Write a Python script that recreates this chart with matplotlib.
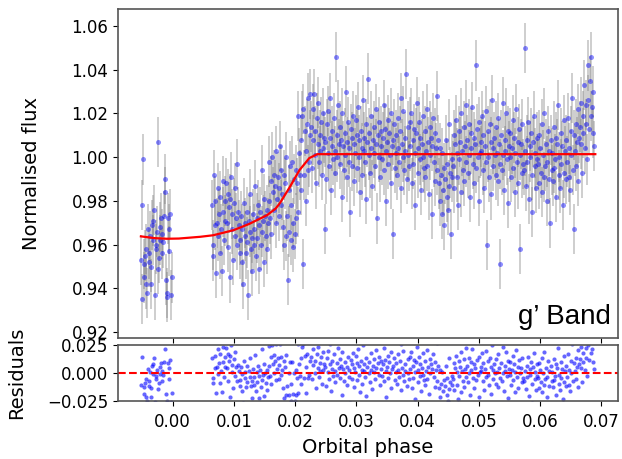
import numpy as np
import matplotlib
matplotlib.use("Agg")
import matplotlib.pyplot as plt

# light curve: two observing segments, regular cadence
seg1_range = (-0.0052, -0.0002)
seg2_range = (0.0064, 0.0688)

# flux deviations from 1 in parts per thousand
seg1_ppt = [-47, -22, -65, -1, -49, -55, -45, -58, -42, -62, -33, -48, -44, -36, -58,
            -50, -31, -38, -29, -24, -63, -40, -42, -34, 7, -51, -46, -38, -32, -28,
            -44, -35, -39, -27, -10, -16, -56, -62, -64, -28, -43, -33, -26, -63, -55]

seg2_ppt = [
    -22, -45, -40, -8, -31, -20, -53, -30, -14, -36, -26, -44, -18, -33, -52, -25, -11, -38, -29, -20,
    -12, -30, -41, -17, -23, -55, -19, -9, -33, -26, -47, -21, -14, -36, -28, -3, -40, -25, -31, -44,
    -38, -27, -48, -33, -58, -21, -36, -30, -44, -25, -39, -63, -29, -34, -17, -42, -37, -52, -26, -40,
    -33, -13, -45, -28, -37, -22, -51, -31, -25, -40, -6, -34, -29, -48, -19, -27, -36, -42, -24, -30,
    -20, -2, -28, -11, -35, 0, -16, -8, -24, -13, -30, 3, -19, -9, -27, -14, 5, -22, -6, -17,
    -32, -8, -40, -12, -36, 0, -27, -56, -15, -34, -4, -38, -22, -2, -30, -41, -10, -35, -6, -28,
    -12, 19, -25, 2, -8, 8, -15, 19, -49, 22, -8, 12, -20, 3, 15, -6, 27, -2, 10, 29,
    14, -5, 22, 8, 29, 1, 12, -12, 18, 6, 25, -2, 10, 3, 16, -8, 20, 4, 9, -33,
    7, -10, 15, 2, 21, -4, 9, 27, -15, 5, 12, -1, 18, 3, -7, 46, 10, 0, 24, 6,
    -3, 14, 8, -18, 20, 5, -6, 11, 1, 30, -9, 7, 16, -2, 4, -25, 13, 9, -4, 19,
    6, -11, 2, 17, 10, -5, 23, 0, 8, -16, 12, 4, -8, 26, 3, 9, -2, 15, -19, 7,
    36, 1, 11, -7, 4, 19, -13, 8, 2, 14, -4, 22, 6, -28, 10, 0, 16, -9, 5, 12,
    -1, 9, 24, -6, 13, 3, -20, 7, 17, -3, 11, 1, -12, 20, 5, -35, 8, 15, -5, 2,
    10, -8, 4, 18, -2, 12, 27, -14, 6, 0, 21, -6, 9, 3, 38, -10, 14, 1, -4, 16,
    5, 20, -12, 8, -3, 13, 2, -22, 11, 25, -7, 4, 16, -1, 9, -15, 6, 19, 0, -5,
    12, -9, 3, 22, -4, 7, -17, 14, 1, 9, -26, 5, 18, -2, 11, -11, 4, 28, -6, 8,
    -12, 4, -20, -8, -26, 2, -15, -5, -31, -10, 8, -18, -3, -24, -13, 15, -7, -35, -1, -9,
    -4, 10, -14, 6, 17, -9, 2, -22, 12, -1, 7, -16, 20, 3, -6, 14, -11, 5, 24, -2,
    8, -7, 15, 1, -18, 11, 4, 23, -3, 9, -12, 6, 42, -5, 13, 0, -20, 16, 2, 7,
    3, 19, -6, 10, -14, 5, 21, -2, -40, 12, 0, -9, 15, 7, -17, 26, 4, -4, 9, 1,
    -8, 14, 2, -11, 18, 6, -3, -49, 10, -6, 25, 1, -15, 8, 3, 20, -1, -21, 12, 5,
    0, 11, -9, 4, 17, -5, 9, -16, 2, 22, -2, 7, -12, 13, 1, -42, 6, -7, 15, -3,
    -6, 50, 3, -13, 8, -2, 16, -19, 5, 0, 11, -8, -25, 7, 19, -4, 2, -14, 9, -1,
    -3, 10, -12, 4, -7, 15, -16, 1, -9, 20, -4, 6, -20, -2, 12, -10, 3, -30, 8, -6,
    2, -11, 14, -5, -1, 9, -18, 6, 24, -8, 0, -14, 11, -3, 5, -22, 17, -7, 3, -10,
    8, -2, 18, -9, 4, -15, 12, 1, 27, -6, 10, -33, 3, 15, -4, 7, 22, -11, 9, 14,
    6, 25, -7, 19, 11, 33, 4, 24, 15, -1, 26, 42, 13, 35, 19, 46, 23, 11, 30, 5,
]
flux_err = 0.0115

# eclipse egress model curve (knots)
model_phase = [-0.0052, -0.0030, -0.0010, 0.0010, 0.0045, 0.0066, 0.0099, 0.0125,
               0.0154, 0.0168, 0.0175, 0.0191, 0.0207, 0.0223, 0.0236, 0.0690]
model_flux = [0.9638, 0.9630, 0.9627, 0.9628, 0.9636, 0.9643, 0.9666, 0.9695,
              0.9735, 0.9765, 0.9790, 0.9863, 0.9941, 0.9996, 1.0014, 1.0014]

phase = np.concatenate([np.linspace(*seg1_range, len(seg1_ppt)),
                        np.linspace(*seg2_range, len(seg2_ppt))])
flux = 1 + np.array(seg1_ppt + seg2_ppt) / 1000.0
resid = flux - np.interp(phase, model_phase, model_flux)

fig = plt.figure(figsize=(6.22, 4.59), dpi=100)
ax = fig.add_axes([0.190, 0.2636, 0.8036, 0.7168])
axr = fig.add_axes([0.190, 0.1264, 0.8036, 0.1220], sharex=ax)

ax.errorbar(phase, flux, yerr=flux_err, fmt='none', ecolor='grey',
            elinewidth=1.4, alpha=0.38, zorder=1)
ax.plot(phase, flux, 'o', color='blue', ms=3.6, alpha=0.45, mew=0, zorder=2)
ax.plot(model_phase, model_flux, color='red', lw=1.6, zorder=3)
ax.set_ylim(0.9173, 1.0678)
ax.set_yticks([0.92, 0.94, 0.96, 0.98, 1.00, 1.02, 1.04, 1.06])
ax.set_ylabel("Normalised flux", fontsize=14, labelpad=22)
ax.text(0.985, 0.025, "g\u2019 Band", transform=ax.transAxes, ha='right', va='bottom',
        fontsize=20, family='Liberation Sans')
plt.setp(ax.get_xticklabels(), visible=False)

axr.plot(phase, resid, 'o', color='blue', ms=3.0, alpha=0.6, mew=0)
axr.axhline(0, color='red', ls='--', lw=1.5)
axr.set_ylim(-0.025, 0.025)
axr.set_yticks([-0.025, 0.0, 0.025])
axr.set_ylabel("Residuals", fontsize=14, labelpad=15)
axr.set_xlabel("Orbital phase", fontsize=14)
axr.xaxis.set_label_coords(0.5, -0.66)
axr.set_xticks([0.0, 0.01, 0.02, 0.03, 0.04, 0.05, 0.06, 0.07])
axr.tick_params(axis='x', pad=5)

for a in (ax, axr):
    a.tick_params(labelsize=12)
    for s in a.spines.values():
        s.set_color('#555555')
        s.set_linewidth(1.2)

fig.savefig("out.png", dpi=100)
